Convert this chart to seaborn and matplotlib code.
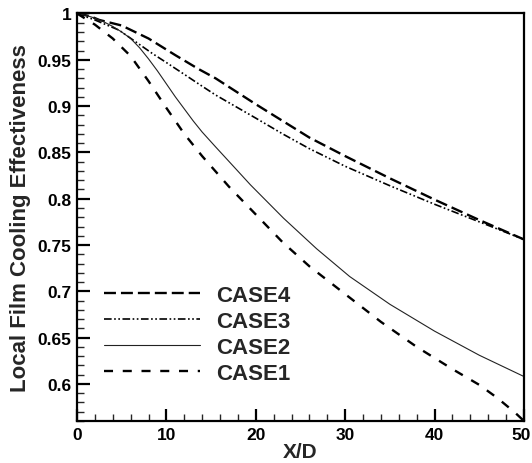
import numpy as np
import pandas as pd
import matplotlib
matplotlib.use("Agg")
import matplotlib.pyplot as plt
import matplotlib.transforms as mtransforms
import seaborn as sns
from matplotlib.ticker import MultipleLocator

# Local film cooling effectiveness along the wall, four cases
x_case4 = [0, 1.5, 2.5, 5, 8, 11, 13.6, 15.5, 20, 23, 26, 30, 35, 40, 45, 50]
y_case4 = [1.0, 0.997, 0.993, 0.987, 0.973, 0.955, 0.940, 0.930, 0.902, 0.884,
           0.866, 0.846, 0.822, 0.799, 0.777, 0.756]

x_case3 = [0, 2, 4.7, 8.4, 10, 12.2, 13.6, 15.5, 20, 23, 26, 30, 35, 40, 45, 50]
y_case3 = [1.0, 0.993, 0.982, 0.957, 0.947, 0.933, 0.924, 0.912, 0.887, 0.870,
           0.854, 0.835, 0.814, 0.794, 0.775, 0.756]

x_case2 = [0, 1, 2, 3, 4, 5, 6, 7, 8, 9, 10, 11, 12, 13, 14, 15.5, 17.5, 19.4,
           23.1, 26.8, 30.5, 35, 40, 45, 50]
y_case2 = [1.0, 0.998, 0.995, 0.991, 0.986, 0.980, 0.973, 0.963, 0.951, 0.938,
           0.924, 0.910, 0.897, 0.884, 0.872, 0.856, 0.835, 0.815, 0.779, 0.746,
           0.716, 0.686, 0.657, 0.631, 0.608]

x_case1 = [0, 2, 4, 6, 8, 10, 12, 14, 17, 20, 23, 26, 30, 34, 38, 42, 45, 47, 49, 50]
y_case1 = [1.0, 0.988, 0.973, 0.954, 0.927, 0.898, 0.870, 0.846, 0.813, 0.783,
           0.753, 0.727, 0.697, 0.667, 0.640, 0.616, 0.599, 0.585, 0.569, 0.560]

cases = ["CASE4", "CASE3", "CASE2", "CASE1"]
xs = [x_case4, x_case3, x_case2, x_case1]
ys = [y_case4, y_case3, y_case2, y_case1]

frames = [pd.DataFrame({"X/D": x, "eta": y, "case": c}) for c, x, y in zip(cases, xs, ys)]
df = pd.concat(frames, ignore_index=True)

sns.set_theme(style="ticks")
plt.rcParams["font.family"] = ["Liberation Sans", "DejaVu Sans"]
plt.rcParams["font.weight"] = "bold"
plt.rcParams["lines.scale_dashes"] = False

fig = plt.figure(figsize=(5.32, 4.64), dpi=100)
ax = fig.add_axes([0.1447, 0.0905, 0.8403, 0.8783])

styles = {
    "CASE4": dict(lw=1.7, ls=(0, (8.6, 3.6)), color="black"),
    "CASE3": dict(lw=1.2, ls=(0, (5.5, 1.8, 1.2, 1.8, 1.2, 1.8)), color="black"),
    "CASE2": dict(lw=0.8, ls="-", color="#222222"),
    "CASE1": dict(lw=1.7, ls=(0, (6.5, 7.0)), color="black"),
}

for c in cases:
    st = styles[c]
    sns.lineplot(data=df[df["case"] == c], x="X/D", y="eta", ax=ax, label=c,
                 color=st["color"], linewidth=st["lw"], linestyle=st["ls"],
                 sort=False, estimator=None)

ax.set_xlim(0, 50)
ax.set_ylim(0.56, 1.0)
ax.xaxis.set_minor_locator(MultipleLocator(2))
ax.yaxis.set_minor_locator(MultipleLocator(0.01))
ax.set_yticks([0.6, 0.65, 0.7, 0.75, 0.8, 0.85, 0.9, 0.95, 1.0])
ax.set_yticklabels(["0.6", "0.65", "0.7", "0.75", "0.8", "0.85", "0.9", "0.95", "1"])
ax.set_xticks([0, 10, 20, 30, 40, 50])
ax.set_xticklabels(["0", "10", "20", "30", "40", "50"])

ax.tick_params(which="major", direction="in", length=9, width=1.6,
               labelsize=12.5, colors="black", pad=4, top=False, right=False)
ax.tick_params(which="minor", direction="in", length=5, width=1.0,
               top=False, right=False)
for lab in ax.get_xticklabels() + ax.get_yticklabels():
    lab.set_fontweight("bold")

# keep the last x tick label inside the figure edge
last = ax.get_xticklabels()[-1]
last.set_transform(last.get_transform() +
                   mtransforms.ScaledTranslation(-3 / 100, 0, fig.dpi_scale_trans))

for s in ax.spines.values():
    s.set_linewidth(1.6)
    s.set_color("black")
    s.set_visible(True)

ax.set_xlabel("X/D", fontsize=15, fontweight="bold", labelpad=0)
ax.set_ylabel("Local Film Cooling Effectiveness", fontsize=16,
              fontweight="bold", labelpad=5)

leg = ax.legend(loc="lower left", bbox_to_anchor=(0.04, 0.07), frameon=False,
                fontsize=16, handlelength=4.35, handletextpad=0.72,
                labelspacing=0.22, borderaxespad=0)
for t in leg.get_texts():
    t.set_fontweight("bold")

fig.savefig("out.png", dpi=100)
